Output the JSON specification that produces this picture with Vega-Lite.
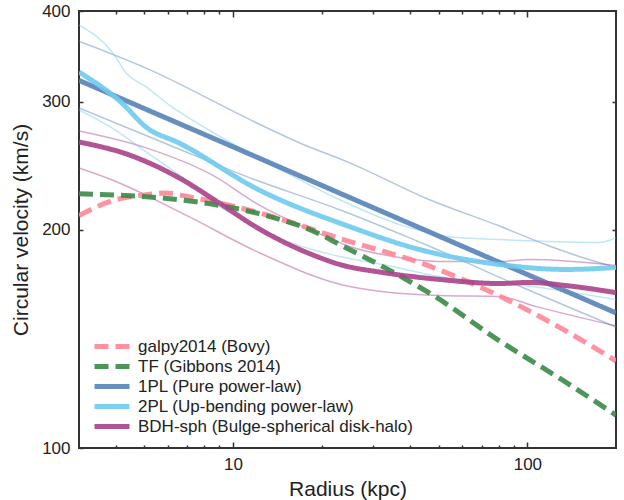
{
  "$schema": "https://vega.github.io/schema/vega-lite/v6.json",
  "width": 537,
  "height": 437,
  "autosize": "none",
  "padding": {"left": 79, "top": 11, "right": 8, "bottom": 52},
  "config": {
    "font": "Liberation Sans",
    "view": {"stroke": "#333333", "strokeWidth": 2},
    "axis": {
      "domain": false, "grid": false,
      "labelFont": "Liberation Sans", "labelFontSize": 17, "labelColor": "#222222",
      "titleFont": "Liberation Sans", "titleFontSize": 21, "titleFontWeight": "normal", "titleColor": "#222222",
      "tickColor": "#333333", "tickWidth": 1.5
    },
    "legend": {
      "orient": "bottom-left", "offset": 13, "title": null, "symbolType": "stroke",
      "symbolSize": 1225, "symbolStrokeWidth": 5, "symbolOpacity": 0.9, "labelFontSize": 17, "labelFont": "Liberation Sans",
      "labelColor": "#222222", "labelOffset": 6, "rowPadding": 2, "padding": 0, "clipHeight": 17, "labelLimit": 0
    }
  },
  "datasets": {
    "main": [
      {"model": "galpy2014 (Bovy)", "r": 3.0, "v": 209.0},
      {"model": "galpy2014 (Bovy)", "r": 3.18, "v": 211.6},
      {"model": "galpy2014 (Bovy)", "r": 3.89, "v": 219.1},
      {"model": "galpy2014 (Bovy)", "r": 5.07, "v": 223.3},
      {"model": "galpy2014 (Bovy)", "r": 5.9, "v": 224.6},
      {"model": "galpy2014 (Bovy)", "r": 7.09, "v": 221.9},
      {"model": "galpy2014 (Bovy)", "r": 12.25, "v": 210.9},
      {"model": "galpy2014 (Bovy)", "r": 24.92, "v": 192.5},
      {"model": "galpy2014 (Bovy)", "r": 43.05, "v": 180.1},
      {"model": "galpy2014 (Bovy)", "r": 78.5, "v": 162.7},
      {"model": "galpy2014 (Bovy)", "r": 131.4, "v": 145.9},
      {"model": "galpy2014 (Bovy)", "r": 200, "v": 131.8},
      {"model": "TF (Gibbons 2014)", "r": 3.0, "v": 224.0},
      {"model": "TF (Gibbons 2014)", "r": 5.07, "v": 221.9},
      {"model": "TF (Gibbons 2014)", "r": 7.49, "v": 218.4},
      {"model": "TF (Gibbons 2014)", "r": 12.25, "v": 210.3},
      {"model": "TF (Gibbons 2014)", "r": 19.26, "v": 198.0},
      {"model": "TF (Gibbons 2014)", "r": 23.05, "v": 190.7},
      {"model": "TF (Gibbons 2014)", "r": 32.25, "v": 177.8},
      {"model": "TF (Gibbons 2014)", "r": 49.14, "v": 161.2},
      {"model": "TF (Gibbons 2014)", "r": 78.5, "v": 141.4},
      {"model": "TF (Gibbons 2014)", "r": 131.4, "v": 124.1},
      {"model": "TF (Gibbons 2014)", "r": 200, "v": 111.0},
      {"model": "1PL (Pure power-law)", "r": 3.0, "v": 321.0},
      {"model": "1PL (Pure power-law)", "r": 5.0, "v": 293.5},
      {"model": "1PL (Pure power-law)", "r": 10.0, "v": 260.0},
      {"model": "1PL (Pure power-law)", "r": 20.0, "v": 230.1},
      {"model": "1PL (Pure power-law)", "r": 50.0, "v": 195.9},
      {"model": "1PL (Pure power-law)", "r": 100.0, "v": 173.4},
      {"model": "1PL (Pure power-law)", "r": 200.0, "v": 153.5},
      {"model": "2PL (Up-bending power-law)", "r": 3.0, "v": 329.5},
      {"model": "2PL (Up-bending power-law)", "r": 4.2, "v": 298.7},
      {"model": "2PL (Up-bending power-law)", "r": 5.07, "v": 276.7},
      {"model": "2PL (Up-bending power-law)", "r": 6.56, "v": 263.2},
      {"model": "2PL (Up-bending power-law)", "r": 12.25, "v": 226.8},
      {"model": "2PL (Up-bending power-law)", "r": 24.92, "v": 201.8},
      {"model": "2PL (Up-bending power-law)", "r": 43.05, "v": 187.7},
      {"model": "2PL (Up-bending power-law)", "r": 80.4, "v": 179.0},
      {"model": "2PL (Up-bending power-law)", "r": 135.6, "v": 176.2},
      {"model": "2PL (Up-bending power-law)", "r": 200, "v": 177.3},
      {"model": "BDH-sph (Bulge-spherical disk-halo)", "r": 3.0, "v": 264.0},
      {"model": "BDH-sph (Bulge-spherical disk-halo)", "r": 4.44, "v": 253.4},
      {"model": "BDH-sph (Bulge-spherical disk-halo)", "r": 6.56, "v": 235.6},
      {"model": "BDH-sph (Bulge-spherical disk-halo)", "r": 8.96, "v": 217.7},
      {"model": "BDH-sph (Bulge-spherical disk-halo)", "r": 12.25, "v": 200.5},
      {"model": "BDH-sph (Bulge-spherical disk-halo)", "r": 19.26, "v": 183.6},
      {"model": "BDH-sph (Bulge-spherical disk-halo)", "r": 23.05, "v": 179.0},
      {"model": "BDH-sph (Bulge-spherical disk-halo)", "r": 32.25, "v": 174.5},
      {"model": "BDH-sph (Bulge-spherical disk-halo)", "r": 50.3, "v": 170.7},
      {"model": "BDH-sph (Bulge-spherical disk-halo)", "r": 80.4, "v": 168.5},
      {"model": "BDH-sph (Bulge-spherical disk-halo)", "r": 101.6, "v": 169.1},
      {"model": "BDH-sph (Bulge-spherical disk-halo)", "r": 135.6, "v": 167.4},
      {"model": "BDH-sph (Bulge-spherical disk-halo)", "r": 200, "v": 163.7}
    ],
    "bands": [
      {"model": "1PL (Pure power-law)", "bound": "upper", "r": 3.0, "v": 363.5},
      {"model": "1PL (Pure power-law)", "bound": "upper", "r": 5.07, "v": 333.7},
      {"model": "1PL (Pure power-law)", "bound": "upper", "r": 12.25, "v": 279.5},
      {"model": "1PL (Pure power-law)", "bound": "upper", "r": 16.87, "v": 263.2},
      {"model": "1PL (Pure power-law)", "bound": "upper", "r": 24.92, "v": 247.1},
      {"model": "1PL (Pure power-law)", "bound": "upper", "r": 46.54, "v": 219.8},
      {"model": "1PL (Pure power-law)", "bound": "upper", "r": 80.4, "v": 202.2},
      {"model": "1PL (Pure power-law)", "bound": "upper", "r": 118.7, "v": 189.8},
      {"model": "1PL (Pure power-law)", "bound": "upper", "r": 150.1, "v": 183.6},
      {"model": "1PL (Pure power-law)", "bound": "upper", "r": 200, "v": 177.3},
      {"model": "1PL (Pure power-law)", "bound": "lower", "r": 3.0, "v": 294.1},
      {"model": "1PL (Pure power-law)", "bound": "lower", "r": 6.07, "v": 261.5},
      {"model": "1PL (Pure power-law)", "bound": "lower", "r": 11.42, "v": 235.6},
      {"model": "1PL (Pure power-law)", "bound": "lower", "r": 23.05, "v": 212.9},
      {"model": "1PL (Pure power-law)", "bound": "lower", "r": 38.89, "v": 195.5},
      {"model": "1PL (Pure power-law)", "bound": "lower", "r": 50.3, "v": 187.1},
      {"model": "1PL (Pure power-law)", "bound": "lower", "r": 80.4, "v": 171.8},
      {"model": "1PL (Pure power-law)", "bound": "lower", "r": 200, "v": 146.8},
      {"model": "2PL (Up-bending power-law)", "bound": "upper", "r": 3.0, "v": 382.4},
      {"model": "2PL (Up-bending power-law)", "bound": "upper", "r": 3.89, "v": 351.1},
      {"model": "2PL (Up-bending power-law)", "bound": "upper", "r": 4.34, "v": 328.5},
      {"model": "2PL (Up-bending power-law)", "bound": "upper", "r": 5.07, "v": 314.4},
      {"model": "2PL (Up-bending power-law)", "bound": "upper", "r": 6.07, "v": 296.9},
      {"model": "2PL (Up-bending power-law)", "bound": "upper", "r": 8.49, "v": 272.5},
      {"model": "2PL (Up-bending power-law)", "bound": "upper", "r": 12.25, "v": 251.0},
      {"model": "2PL (Up-bending power-law)", "bound": "upper", "r": 23.05, "v": 219.8},
      {"model": "2PL (Up-bending power-law)", "bound": "upper", "r": 36.82, "v": 203.1},
      {"model": "2PL (Up-bending power-law)", "bound": "upper", "r": 54.4, "v": 195.5},
      {"model": "2PL (Up-bending power-law)", "bound": "upper", "r": 80.4, "v": 193.7},
      {"model": "2PL (Up-bending power-law)", "bound": "upper", "r": 118.7, "v": 192.5},
      {"model": "2PL (Up-bending power-law)", "bound": "upper", "r": 175.4, "v": 191.9},
      {"model": "2PL (Up-bending power-law)", "bound": "upper", "r": 200, "v": 194.9},
      {"model": "2PL (Up-bending power-law)", "bound": "lower", "r": 3.0, "v": 292.2},
      {"model": "2PL (Up-bending power-law)", "bound": "lower", "r": 3.89, "v": 275.8},
      {"model": "2PL (Up-bending power-law)", "bound": "lower", "r": 5.07, "v": 255.8},
      {"model": "2PL (Up-bending power-law)", "bound": "lower", "r": 7.49, "v": 228.2},
      {"model": "2PL (Up-bending power-law)", "bound": "lower", "r": 8.29, "v": 219.8},
      {"model": "2PL (Up-bending power-law)", "bound": "lower", "r": 10.56, "v": 207.7},
      {"model": "2PL (Up-bending power-law)", "bound": "lower", "r": 14.77, "v": 193.7},
      {"model": "2PL (Up-bending power-law)", "bound": "lower", "r": 23.05, "v": 183.6},
      {"model": "2PL (Up-bending power-law)", "bound": "lower", "r": 32.25, "v": 179.0},
      {"model": "2PL (Up-bending power-law)", "bound": "lower", "r": 50.3, "v": 172.3},
      {"model": "2PL (Up-bending power-law)", "bound": "lower", "r": 104.0, "v": 166.9},
      {"model": "2PL (Up-bending power-law)", "bound": "lower", "r": 200, "v": 160.1},
      {"model": "BDH-sph (Bulge-spherical disk-halo)", "bound": "upper", "r": 3.0, "v": 273.3},
      {"model": "BDH-sph (Bulge-spherical disk-halo)", "bound": "upper", "r": 5.07, "v": 259.1},
      {"model": "BDH-sph (Bulge-spherical disk-halo)", "bound": "upper", "r": 8.49, "v": 237.8},
      {"model": "BDH-sph (Bulge-spherical disk-halo)", "bound": "upper", "r": 12.25, "v": 216.3},
      {"model": "BDH-sph (Bulge-spherical disk-halo)", "bound": "upper", "r": 19.26, "v": 198.0},
      {"model": "BDH-sph (Bulge-spherical disk-halo)", "bound": "upper", "r": 24.92, "v": 189.5},
      {"model": "BDH-sph (Bulge-spherical disk-halo)", "bound": "upper", "r": 36.82, "v": 183.0},
      {"model": "BDH-sph (Bulge-spherical disk-halo)", "bound": "upper", "r": 50.3, "v": 180.7},
      {"model": "BDH-sph (Bulge-spherical disk-halo)", "bound": "upper", "r": 80.4, "v": 180.7},
      {"model": "BDH-sph (Bulge-spherical disk-halo)", "bound": "upper", "r": 101.6, "v": 181.8},
      {"model": "BDH-sph (Bulge-spherical disk-halo)", "bound": "upper", "r": 200, "v": 178.4},
      {"model": "BDH-sph (Bulge-spherical disk-halo)", "bound": "lower", "r": 3.0, "v": 243.1},
      {"model": "BDH-sph (Bulge-spherical disk-halo)", "bound": "lower", "r": 3.89, "v": 234.0},
      {"model": "BDH-sph (Bulge-spherical disk-halo)", "bound": "lower", "r": 7.09, "v": 208.3},
      {"model": "BDH-sph (Bulge-spherical disk-halo)", "bound": "lower", "r": 12.25, "v": 185.9},
      {"model": "BDH-sph (Bulge-spherical disk-halo)", "bound": "lower", "r": 24.92, "v": 166.9},
      {"model": "BDH-sph (Bulge-spherical disk-halo)", "bound": "lower", "r": 50.3, "v": 162.2},
      {"model": "BDH-sph (Bulge-spherical disk-halo)", "bound": "lower", "r": 80.4, "v": 161.7},
      {"model": "BDH-sph (Bulge-spherical disk-halo)", "bound": "lower", "r": 107.3, "v": 156.6},
      {"model": "BDH-sph (Bulge-spherical disk-halo)", "bound": "lower", "r": 200, "v": 147.3}
    ]
  },
  "layer": [
    {
      "data": {"name": "bands"},
      "transform": [{"filter": "datum.bound == 'upper'"}],
      "mark": {"type": "line", "strokeWidth": 1.5, "opacity": 0.45, "clip": true, "interpolate": "monotone"},
      "encoding": {
        "x": {"field": "r", "type": "quantitative",
          "scale": {"type": "log", "domain": [3, 200], "nice": false},
          "axis": {"orient": "top", "labels": false, "title": null, "tickSize": -6, "values": [10, 100]}},
        "y": {"field": "v", "type": "quantitative",
          "scale": {"type": "log", "domain": [100, 400], "nice": false},
          "axis": {"orient": "right", "labels": false, "title": null, "tickSize": -4, "values": [200, 300]}},
        "color": {"field": "model", "type": "nominal",
          "scale": {
            "domain": ["galpy2014 (Bovy)", "TF (Gibbons 2014)", "1PL (Pure power-law)", "2PL (Up-bending power-law)", "BDH-sph (Bulge-spherical disk-halo)"],
            "range": ["#ff8596", "#3b8a47", "#5783b6", "#6fcaee", "#a8428a"]}}
      }
    },
    {
      "data": {"name": "bands"},
      "transform": [{"filter": "datum.bound == 'lower'"}],
      "mark": {"type": "line", "strokeWidth": 1.5, "opacity": 0.45, "clip": true, "interpolate": "monotone"},
      "encoding": {
        "x": {"field": "r", "type": "quantitative",
          "scale": {"type": "log", "domain": [3, 200], "nice": false},
          "axis": {"orient": "top", "labels": false, "title": null, "tickSize": -3,
            "values": [4, 5, 6, 7, 8, 9, 20, 30, 40, 50, 60, 70, 80, 90]}},
        "y": {"field": "v", "type": "quantitative",
          "scale": {"type": "log", "domain": [100, 400], "nice": false}, "axis": null},
        "color": {"field": "model", "type": "nominal",
          "scale": {
            "domain": ["galpy2014 (Bovy)", "TF (Gibbons 2014)", "1PL (Pure power-law)", "2PL (Up-bending power-law)", "BDH-sph (Bulge-spherical disk-halo)"],
            "range": ["#ff8596", "#3b8a47", "#5783b6", "#6fcaee", "#a8428a"]}}
      }
    },
    {
      "mark": {"type": "rule", "color": "#555555", "strokeWidth": 2, "strokeDash": [9, 5]},
      "encoding": {"y": {"datum": 220, "type": "quantitative", "axis": null}}
    },
    {
      "data": {"name": "main"},
      "transform": [{"filter": "datum.model == 'galpy2014 (Bovy)' || datum.model == 'TF (Gibbons 2014)'"}],
      "mark": {"type": "line", "strokeWidth": 5, "opacity": 0.9, "clip": true, "interpolate": "monotone"},
      "encoding": {
        "x": {"field": "r", "type": "quantitative",
          "scale": {"type": "log", "domain": [3, 200], "nice": false},
          "axis": {"orient": "bottom", "labels": false, "title": null, "tickSize": -3,
            "values": [4, 5, 6, 7, 8, 9, 20, 30, 40, 50, 60, 70, 80, 90]}},
        "y": {"field": "v", "type": "quantitative",
          "scale": {"type": "log", "domain": [100, 400], "nice": false}, "axis": null},
        "color": {"field": "model", "type": "nominal",
          "scale": {
            "domain": ["galpy2014 (Bovy)", "TF (Gibbons 2014)", "1PL (Pure power-law)", "2PL (Up-bending power-law)", "BDH-sph (Bulge-spherical disk-halo)"],
            "range": ["#ff8596", "#3b8a47", "#5783b6", "#6fcaee", "#a8428a"]}},
        "strokeDash": {"field": "model", "type": "nominal",
          "scale": {
            "domain": ["galpy2014 (Bovy)", "TF (Gibbons 2014)", "1PL (Pure power-law)", "2PL (Up-bending power-law)", "BDH-sph (Bulge-spherical disk-halo)"],
            "range": [[14, 7], [14, 7], [1, 0], [1, 0], [1, 0]]}}
      }
    },
    {
      "data": {"name": "main"},
      "transform": [{"filter": "datum.model != 'galpy2014 (Bovy)' && datum.model != 'TF (Gibbons 2014)'"}],
      "mark": {"type": "line", "strokeWidth": 5, "opacity": 0.9, "clip": true, "interpolate": "monotone"},
      "encoding": {
        "x": {"field": "r", "type": "quantitative",
          "scale": {"type": "log", "domain": [3, 200], "nice": false},
          "axis": {"orient": "bottom", "title": "Radius (kpc)", "tickSize": -6, "labelPadding": 14, "titlePadding": 6,
            "values": [10, 100]}},
        "y": {"field": "v", "type": "quantitative",
          "scale": {"type": "log", "domain": [100, 400], "nice": false},
          "axis": {"orient": "left", "title": "Circular velocity (km/s)", "tickSize": -4, "labelPadding": 13, "titlePadding": 10,
            "values": [100, 200, 300, 400]}},
        "color": {"field": "model", "type": "nominal",
          "scale": {
            "domain": ["galpy2014 (Bovy)", "TF (Gibbons 2014)", "1PL (Pure power-law)", "2PL (Up-bending power-law)", "BDH-sph (Bulge-spherical disk-halo)"],
            "range": ["#ff8596", "#3b8a47", "#5783b6", "#6fcaee", "#a8428a"]}},
        "strokeDash": {"field": "model", "type": "nominal",
          "scale": {
            "domain": ["galpy2014 (Bovy)", "TF (Gibbons 2014)", "1PL (Pure power-law)", "2PL (Up-bending power-law)", "BDH-sph (Bulge-spherical disk-halo)"],
            "range": [[14, 7], [14, 7], [1, 0], [1, 0], [1, 0]]}}
      }
    }
  ],
  "resolve": {"axis": {"x": "independent", "y": "independent"}}
}
